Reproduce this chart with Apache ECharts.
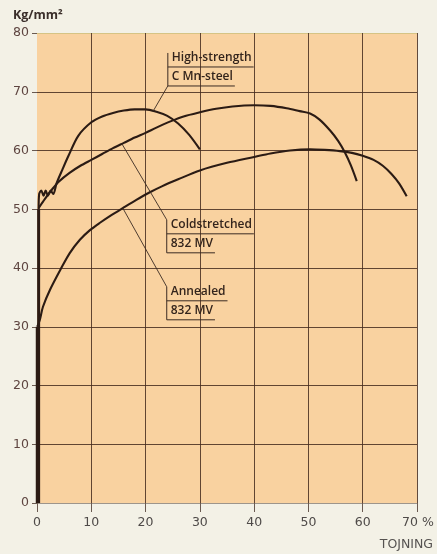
<!DOCTYPE html>
<html>
<head>
<meta charset="utf-8">
<script src="https://cdn.jsdelivr.net/npm/echarts@6/dist/echarts.min.js"></script>
<style>
  html, body { margin: 0; padding: 0; background: #f3f1e6; }
  #chart { width: 437px; height: 554px; }
</style>
</head>
<body>
<div id="chart"></div>
<script>
// Tensile test curves: stress (Kg/mm²) against elongation (%)
const xTicks = [0, 10, 20, 30, 40, 50, 60, 70];
const yTicks = [0, 10, 20, 30, 40, 50, 60, 70, 80];

// Elastic (vertical) parts of the curves
const elasticHighX = [0.3, 0.3];
const elasticHighY = [0, 50];
const elasticAnnX = [0.05, 0.05];
const elasticAnnY = [0, 30];

// High-strength C Mn-steel, plastic range (with yield wiggle)
const highX = [0.3, 0.4, 0.8, 1.2, 1.6, 2.0, 2.5, 3.0, 3.6, 4.7, 5.8, 7.6, 10.0, 12.0, 14.0, 16.0, 18.0, 20.0, 22.0, 24.0, 26.0, 28.0, 30.0];
const highY = [50.0, 52.6, 53.2, 52.3, 53.2, 52.3, 53.2, 52.6, 54.4, 56.8, 59.1, 62.5, 64.8, 65.8, 66.4, 66.8, 67.0, 67.0, 66.6, 65.9, 64.6, 62.7, 60.2];

// Coldstretched 832 MV
const coldX = [0.3, 1.5, 2.8, 4.0, 6.0, 8.0, 10.0, 12.0, 14.0, 16.0, 18.0, 20.0, 22.0, 24.7, 27.0, 30.0, 33.0, 36.0, 40.0, 43.0, 46.0, 48.4, 50.3, 52.0, 54.0, 55.5, 56.7, 57.8, 58.9];
const coldY = [50.2, 51.8, 53.4, 54.7, 56.2, 57.4, 58.4, 59.4, 60.4, 61.3, 62.2, 63.0, 63.9, 65.0, 65.8, 66.5, 67.1, 67.5, 67.7, 67.6, 67.2, 66.7, 66.3, 65.3, 63.4, 61.6, 59.7, 57.5, 54.8];

// Annealed 832 MV
const annX = [0.05, 0.5, 1.1, 2.4, 4.6, 6.0, 7.9, 9.7, 11.6, 13.7, 15.8, 18.3, 20.8, 23.0, 26.0, 30.0, 35.0, 40.0, 43.0, 46.6, 50.3, 53.0, 55.8, 58.0, 60.0, 62.0, 63.7, 65.3, 66.7, 68.1];
const annY = [30.0, 31.1, 33.4, 36.3, 40.2, 42.5, 44.8, 46.4, 47.7, 49.0, 50.2, 51.6, 52.9, 53.9, 55.1, 56.6, 57.9, 58.9, 59.5, 60.0, 60.2, 60.1, 59.9, 59.6, 59.1, 58.4, 57.4, 56.0, 54.4, 52.2];

// Curve labels: two text lines, bracket top, leader start and leader end (data units)
const noteLines = [['High-strength', 'C Mn-steel'], ['Coldstretched', '832 MV'], ['Annealed', '832 MV']];
const noteTop = [[24.1, 76.6], [23.9, 48.2], [23.9, 36.8]];
const noteLeaderFrom = [[24.1, 71.0], [23.9, 48.2], [23.9, 36.8]];
const noteLeaderTo = [[21.4, 66.7], [15.6, 61.2], [15.8, 50.2]];

const ink = '#2b1b14';
const gridDark = 'rgba(70,45,30,0.85)';

const zip = (xs, ys) => xs.map((x, i) => [x, ys[i]]);

const chart = echarts.init(document.getElementById('chart'), null, { renderer: 'canvas' });

function curve(name, xs, ys, smooth, width) {
  return {
    name, type: 'line', data: zip(xs, ys),
    smooth: smooth ? 0.3 : false,
    showSymbol: false, symbol: 'none', silent: true,
    lineStyle: { color: ink, width: width || 2.1 }, z: 5
  };
}

chart.setOption({
  animation: false,
  backgroundColor: '#f3f1e6',
  grid: {
    left: 37, right: 20, top: 33, bottom: 51,
    show: true, backgroundColor: '#f9d2a0', borderWidth: 0
  },
  xAxis: {
    type: 'value', min: 0, max: 70, interval: 10,
    axisLine: { show: false },
    axisTick: { show: true, length: 9, lineStyle: { color: '#6a5a50', width: 1 } },
    axisLabel: {
      color: '#4e4a48', fontSize: 12.5, fontFamily: 'DejaVu Sans', margin: 13,
      formatter: v => (v === 70 ? '{p|70 %}' : String(v)),
      rich: { p: { color: '#4e4a48', fontSize: 12.5, fontFamily: 'DejaVu Sans', padding: [0, 0, 0, 2] } }
    },
    splitLine: {
      show: true,
      lineStyle: { color: ['rgba(0,0,0,0)', gridDark, gridDark, gridDark, gridDark, gridDark, gridDark, gridDark], width: 1 }
    }
  },
  yAxis: {
    type: 'value', min: 0, max: 80, interval: 10,
    axisLine: { show: false },
    axisTick: { show: true, length: 5, lineStyle: { color: '#6a5a50', width: 1 } },
    axisLabel: { color: '#5e4540', fontSize: 12.5, fontFamily: 'DejaVu Sans', margin: 8 },
    splitLine: {
      show: true,
      lineStyle: {
        color: ['rgba(120,110,100,0.7)', gridDark, gridDark, gridDark, gridDark, gridDark, gridDark, gridDark, 'rgba(200,190,120,0.7)'],
        width: 1
      }
    }
  },
  series: [
    curve('High-strength elastic', elasticHighX, elasticHighY, false, 3),
    curve('Annealed elastic', elasticAnnX, elasticAnnY, false, 3),
    curve('High-strength C Mn-steel', highX, highY, true),
    curve('Coldstretched 832 MV', coldX, coldY, true),
    curve('Annealed 832 MV', annX, annY, true)
  ]
});

// Axis titles and curve labels
function buildGraphics() {
  const px = p => chart.convertToPixel({ gridIndex: 0 }, p);
  const textFont = '600 12px "Open Sans"';
  const els = [
    {
      type: 'text', left: 13, top: 9,
      style: { text: 'Kg/mm²', font: 'bold 12.5px "Open Sans"', fill: '#3a2e2a' }
    },
    {
      type: 'text', right: 4, top: 538,
      style: { text: 'TOJNING', font: '12.5px "DejaVu Sans"', fill: '#555250' }
    }
  ];
  const measure = (t) => echarts.format.getTextRect
    ? echarts.format.getTextRect(t, textFont).width
    : t.length * 6.5;
  noteLines.forEach((lines, i) => {
    const top = px(noteTop[i]);
    const from = px(noteLeaderFrom[i]);
    const to = px(noteLeaderTo[i]);
    const x0 = top[0], y0 = top[1];
    const w1 = measure(lines[0]) + 6;
    const w2 = measure(lines[1]) + 6;
    const ls = { stroke: '#3b2b22', lineWidth: 1 };
    els.push(
      { type: 'line', shape: { x1: x0, y1: y0, x2: x0, y2: y0 + 33 }, style: ls, z: 10 },
      { type: 'line', shape: { x1: x0, y1: y0 + 14, x2: x0 + w1, y2: y0 + 14 }, style: ls, z: 10 },
      { type: 'line', shape: { x1: x0, y1: y0 + 33, x2: x0 + w2, y2: y0 + 33 }, style: ls, z: 10 },
      { type: 'line', shape: { x1: from[0], y1: from[1], x2: to[0], y2: to[1] }, style: { stroke: '#3b2b22', lineWidth: 0.9 }, z: 10 },
      { type: 'text', x: x0 + 4, y: y0 + 11, z: 10,
        style: { text: lines[0], font: textFont, fill: '#33241c', textVerticalAlign: 'bottom' } },
      { type: 'text', x: x0 + 4, y: y0 + 30, z: 10,
        style: { text: lines[1], font: textFont, fill: '#33241c', textVerticalAlign: 'bottom' } }
    );
  });
  chart.setOption({ graphic: els });
}
buildGraphics();
</script>
</body>
</html>
